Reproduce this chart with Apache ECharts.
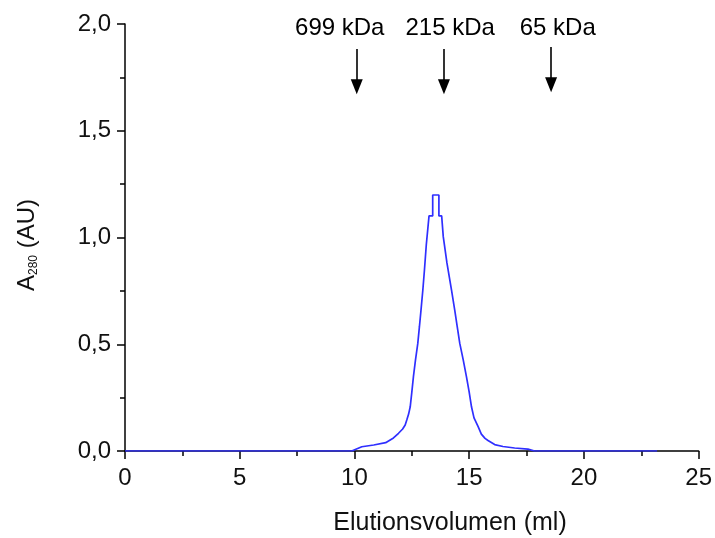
<!DOCTYPE html>
<html>
<head>
<meta charset="utf-8">
<script src="https://cdn.jsdelivr.net/npm/echarts@6/dist/echarts.min.js"></script>
<style>html,body{margin:0;padding:0;background:#fff}#c{width:715px;height:538px}</style>
</head>
<body>
<div id="c"></div>
<script>
// Elution volume (ml) and absorbance A280 (AU)
const volume = [0, 9.88, 10.32, 10.84, 11.36, 11.70, 11.92, 12.10, 12.21, 12.28, 12.36, 12.43, 12.50, 12.57, 12.66, 12.76, 12.83, 12.90, 12.98, 13.05, 13.13, 13.25,
  13.41, 13.41, 13.68, 13.68, 13.80,
  13.87, 14.03, 14.23, 14.37, 14.48, 14.59, 14.74, 14.88, 15.00, 15.10, 15.21, 15.39, 15.53, 15.69, 15.82, 16.11, 16.47, 16.98, 17.56, 17.85, 23.19];
const absorb = [0, 0, 0.020, 0.028, 0.039, 0.061, 0.083, 0.103, 0.122, 0.145, 0.173, 0.207, 0.276, 0.348, 0.427, 0.504, 0.581, 0.660, 0.754, 0.848, 0.965, 1.101,
  1.101, 1.199, 1.199, 1.101, 1.101,
  1.004, 0.881, 0.754, 0.660, 0.581, 0.504, 0.427, 0.348, 0.276, 0.207, 0.155, 0.114, 0.079, 0.059, 0.049, 0.030, 0.021, 0.014, 0.009, 0, 0];

// marker annotations
const markerNames = ['699 kDa', '215 kDa', '65 kDa'];
const markerArrowX = [10.10, 13.90, 18.57];
const markerArrowTop = [1.883, 1.883, 1.892];
const markerArrowEnd = [1.706, 1.706, 1.715];
const markerLabelX = [9.36, 14.17, 18.86];
const markerLabelY = 1.98;

const xTicks = [0, 5, 10, 15, 20, 25];
const yTicks = [0, 0.5, 1.0, 1.5, 2.0];

const FONT = 'Liberation Sans, Arial, sans-serif';
const FS = 24;

const chart = echarts.init(document.getElementById('c'));
chart.setOption({
  animation: false,
  backgroundColor: '#fff',
  grid: { left: 125, right: 13, top: 24, bottom: 87, containLabel: false },
  xAxis: {
    type: 'value', min: xTicks[0], max: xTicks[xTicks.length - 1], interval: 5,
    axisLine: { lineStyle: { color: '#000', width: 1.5 } },
    axisTick: { length: 8, lineStyle: { color: '#000', width: 1.5 } },
    minorTick: { show: true, splitNumber: 2, length: 5, lineStyle: { color: '#000', width: 1.5 } },
    splitLine: { show: false },
    axisLabel: { color: '#111', fontSize: FS, fontFamily: FONT, margin: 15 }
  },
  yAxis: {
    type: 'value', min: yTicks[0], max: yTicks[yTicks.length - 1], interval: 0.5,
    axisLine: { show: true, lineStyle: { color: '#000', width: 1.5 } },
    axisTick: { show: true, length: 8, lineStyle: { color: '#000', width: 1.5 } },
    minorTick: { show: true, splitNumber: 2, length: 5, lineStyle: { color: '#000', width: 1.5 } },
    splitLine: { show: false },
    axisLabel: { color: '#111', fontSize: FS, fontFamily: FONT, margin: 14,
      formatter: v => v.toFixed(1).replace('.', ',') }
  },
  graphic: [{
    type: 'text', x: 450, y: 523,
    style: { text: 'Elutionsvolumen (ml)', fontSize: FS + 1, fontFamily: FONT, fill: '#111', align: 'center', verticalAlign: 'middle' }
  }, {
    type: 'text', x: 27, y: 245, rotation: Math.PI / 2,
    style: {
      text: '{a|A}{s|280}{a| (AU)}', align: 'center', verticalAlign: 'middle',
      rich: {
        a: { fontSize: FS, fontFamily: FONT, fill: '#111' },
        s: { fontSize: 12, fontFamily: FONT, fill: '#111', padding: [14, 0, 0, 0] }
      }
    }
  }],
  series: [{
    type: 'line',
    data: volume.map((v, i) => [v, absorb[i]]),
    showSymbol: false, symbol: 'none',
    lineStyle: { color: '#2f2fff', width: 1.7 },
    markLine: {
      silent: true, symbol: ['none', 'triangle'], symbolSize: [12, 15],
      lineStyle: { color: '#000', width: 1.6, type: 'solid' },
      label: { show: false },
      data: markerArrowX.map((x, i) => [
        { coord: [x, markerArrowTop[i]] },
        { coord: [x, markerArrowEnd[i]] }
      ])
    }
  }, {
    type: 'scatter', symbolSize: 0, silent: true,
    itemStyle: { opacity: 1, color: 'rgba(0,0,0,0)' },
    data: markerNames.map((n, i) => ({ value: [markerLabelX[i], markerLabelY], name: n })),
    label: { show: true, position: 'inside', formatter: p => p.name, color: '#000', textBorderWidth: 0,
      fontSize: FS, fontFamily: FONT }
  }]
});
</script>
</body>
</html>
